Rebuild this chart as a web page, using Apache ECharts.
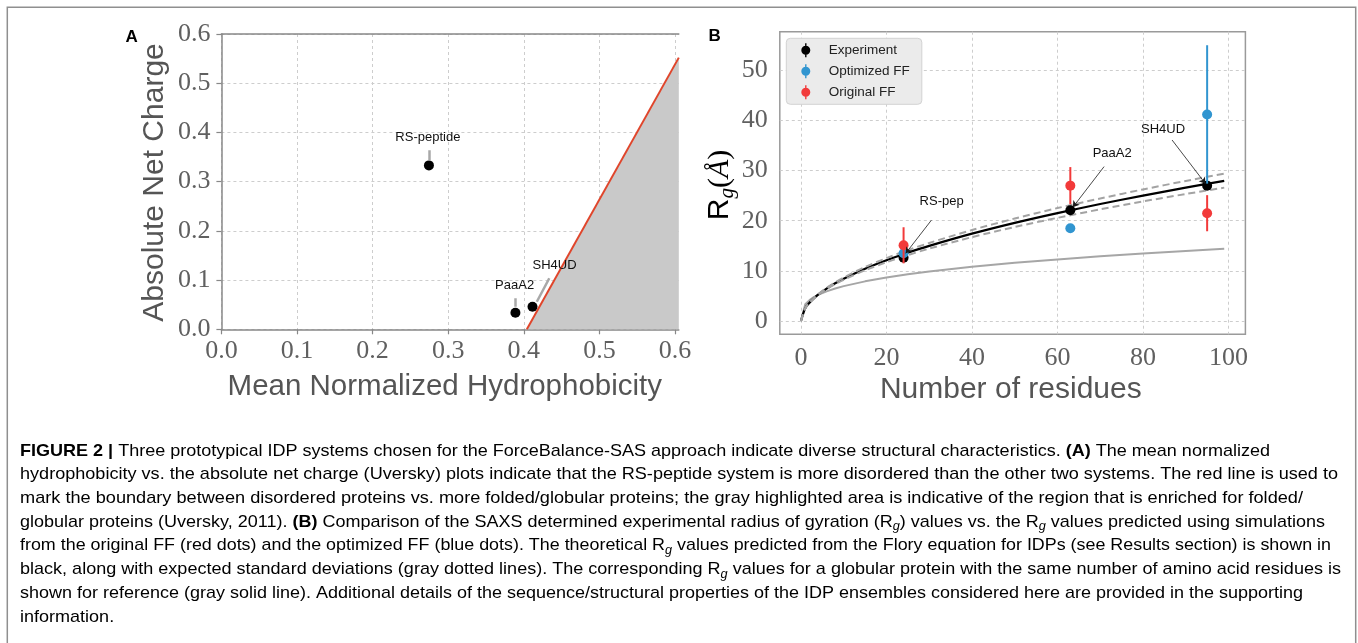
<!DOCTYPE html>
<html><head><meta charset="utf-8">
<script src="https://cdn.jsdelivr.net/npm/echarts@6/dist/echarts.min.js"></script>
<style>html,body{margin:0;padding:0;background:#fff}#c{width:1358px;height:643px}</style>
</head><body><div id="c"></div>
<script>
// ---------- Panel A data ----------
const aNames = ['RS-peptide', 'PaaA2', 'SH4UD'];
const aHydro = [0.2745, 0.3889, 0.4115];
const aCharge = [0.333, 0.0337, 0.0459];
const aLabelX = [0.2731, 0.3878, 0.4407];
const aLabelY = [0.390, 0.090, 0.129];
const aPtrFrom = [[0.2745, 0.364], [0.3889, 0.063], [0.4337, 0.1038]];
const aPtrTo = [[0.2745, 0.344], [0.3889, 0.046], [0.4172, 0.056]];
const boundaryX = [0.404, 0.605];
const boundaryY = [0, 0.552];
const aXTicks = [0, 0.1, 0.2, 0.3, 0.4, 0.5, 0.6];

// ---------- Panel B data ----------
const residues = [24, 63, 95];
const expRg = [12.6, 22.1, 27.0];
const expErr = [0.8, 0.8, 0.8];
const optRg = [13.5, 18.5, 41.2];
const optErr = [0, 0, 13.8];
const origRg = [15.1, 27.0, 21.5];
const origErr = [3.6, 3.7, 3.6];
const curveN   = [0, 1, 2, 3, 4, 6, 8, 10, 15, 20, 25, 30, 40, 50, 60, 70, 80, 90, 99];
const flory    = [0, 2.54, 3.65, 4.51, 5.24, 6.47, 7.52, 8.45, 10.44, 12.13, 13.63, 14.99, 17.42, 19.58, 21.53, 23.33, 25.02, 26.60, 27.96];
const floryHi  = [0, 2.55, 3.69, 4.57, 5.33, 6.62, 7.71, 8.68, 10.77, 12.55, 14.13, 15.57, 18.15, 20.44, 22.52, 24.44, 26.24, 27.94, 29.39];
const floryLo  = [0, 2.53, 3.61, 4.44, 5.15, 6.33, 7.34, 8.22, 10.12, 11.73, 13.15, 14.44, 16.73, 18.75, 20.58, 22.27, 23.85, 25.33, 26.60];
const globular = [0, 3.35, 4.17, 4.75, 5.20, 5.92, 6.48, 6.96, 7.91, 8.67, 9.31, 9.86, 10.81, 11.60, 12.29, 12.91, 13.47, 13.98, 14.41];
const bXTicks = [0, 20, 40, 60, 80, 100];
const bYTicks = [0, 10, 20, 30, 40, 50];
const bNames = ['RS-pep', 'PaaA2', 'SH4UD'];
const bLabelPos = [[32.9, 23.8], [72.8, 33.4], [84.7, 38.2]];
const bArrowFrom = [[30.5, 20.1], [70.9, 30.8], [86.8, 36.1]];
const bArrowTo = [[24.5, 13.5], [63.6, 22.7], [94.6, 27.4]];
const legendNames = ['Experiment', 'Optimized FF', 'Original FF'];

// ---------- Caption ----------
const captionLines = [
  [['b', 'FIGURE 2 |'], ['n', ' Three prototypical IDP systems chosen for the ForceBalance-SAS approach indicate diverse structural characteristics. '], ['b', '(A)'], ['n', ' The mean normalized']],
  [['n', 'hydrophobicity vs. the absolute net charge (Uversky) plots indicate that the RS-peptide system is more disordered than the other two systems. The red line is used to']],
  [['n', 'mark the boundary between disordered proteins vs. more folded/globular proteins; the gray highlighted area is indicative of the region that is enriched for folded/']],
  [['n', 'globular proteins ('], ['l', 'Uversky, 2011'], ['n', '). '], ['b', '(B)'], ['n', ' Comparison of the SAXS determined experimental radius of gyration (R'], ['s', 'g'], ['n', ') values vs. the R'], ['s', 'g'], ['n', ' values predicted using simulations']],
  [['n', 'from the original FF (red dots) and the optimized FF (blue dots). The theoretical R'], ['s', 'g'], ['n', ' values predicted from the Flory equation for IDPs (see Results section) is shown in']],
  [['n', 'black, along with expected standard deviations (gray dotted lines). The corresponding R'], ['s', 'g'], ['n', ' values for a globular protein with the same number of amino acid residues is']],
  [['n', 'shown for reference (gray solid line). Additional details of the sequence/structural properties of the IDP ensembles considered here are provided in the supporting']],
  [['n', 'information.']]
];
const captionEnds = [1270, 1338, 1303, 1325, 1331, 1341, 1303, null];

// ---------- build ----------
const SANS = '"Liberation Sans", Arial, sans-serif';
const SERIF = '"Liberation Serif", "DejaVu Serif", serif';
const zip = (a, b) => a.map((v, i) => [v, b[i]]);
const errData = (ys, es) => residues.map((x, i) => [x, ys[i] - es[i], ys[i] + es[i]]);

function errRender(color) {
  return function (params, api) {
    const x = api.value(0), lo = api.value(1), hi = api.value(2);
    if (hi - lo <= 0) return null;
    const p1 = api.coord([x, lo]), p2 = api.coord([x, hi]);
    return { type: 'line', shape: { x1: p1[0], y1: p1[1], x2: p2[0], y2: p2[1] }, style: { stroke: color, lineWidth: 2 } };
  };
}
function textRender(names) {
  return function (params, api) {
    const p = api.coord([api.value(0), api.value(1)]);
    return { type: 'text', x: p[0], y: p[1],
      style: { text: names[params.dataIndex], fill: '#111', fontFamily: SANS, fontSize: 13, align: 'center', verticalAlign: 'middle' } };
  };
}

const capFont = { n: ['normal', 'normal'], b: ['bold', 'normal'], l: ['normal', 'normal'], s: ['normal', 'italic'] };
const capSize = { n: 17, b: 17, l: 17, s: 12 };
const cvs = document.createElement('canvas').getContext('2d');
function measureLine(segs) {
  let w = 0;
  segs.forEach(([k, t]) => {
    cvs.font = capFont[k][1] + ' ' + capFont[k][0] + ' ' + capSize[k] + 'px "Liberation Sans"';
    w += cvs.measureText(t).width;
  });
  return w;
}
const capRich = {
  n: { fontFamily: SANS, fontSize: 17, color: '#3a3a3a', lineHeight: 22 },
  b: { fontFamily: SANS, fontSize: 17, fontWeight: 'bold', color: '#2a2a2a', lineHeight: 22 },
  l: { fontFamily: SANS, fontSize: 17, color: '#86a3c6', lineHeight: 22 },
  s: { fontFamily: SANS, fontSize: 12, fontStyle: 'italic', color: '#3a3a3a', lineHeight: 12, verticalAlign: 'bottom' }
};
const capX0 = 20, capY0 = 451, capDY = 23.7;
const capScales = captionLines.map((segs, i) => captionEnds[i] ? (captionEnds[i] - capX0) / measureLine(segs) : null);
const known = capScales.filter(s => s).sort((a, b) => a - b);
const medScale = known[Math.floor(known.length / 2)];
const captionGraphics = captionLines.map((segs, i) => ({
  type: 'text', x: capX0, y: capY0 + i * capDY, scaleX: capScales[i] || medScale,
  style: { text: segs.map(([k, t]) => '{' + k + '|' + t + '}').join(''), rich: capRich, align: 'left', verticalAlign: 'middle' }
}));

const iconPath = 'path://M4.3,0L5.7,0L5.7,14L4.3,14Z M0.5,7A4.5,4.5,0,1,1,9.5,7A4.5,4.5,0,1,1,0.5,7Z';
const gridLine = { show: true, lineStyle: { type: [3, 3], color: '#cdcdcd', width: 1 } };
const tickLabel = { fontFamily: SERIF, fontSize: 26, color: '#606060' };

const chart = echarts.init(document.getElementById('c'), null, { renderer: 'canvas' });
chart.setOption({
  animation: false,
  backgroundColor: '#ffffff',
  grid: [
    { left: 221.4, top: 34, width: 457.4, height: 295.3 },
    { left: 779.8, top: 31.7, width: 465.6, height: 302.6, show: true, borderColor: '#9a9a9a', borderWidth: 1.5, backgroundColor: 'transparent' }
  ],
  xAxis: [
    { gridIndex: 0, type: 'value', min: 0, max: 0.605,
      axisLine: { show: true, onZero: false, lineStyle: { color: '#888', width: 1.5 } },
      axisTick: { show: true, customValues: aXTicks, length: 5, lineStyle: { color: '#888', width: 1.2 } },
      axisLabel: { customValues: aXTicks, formatter: v => v.toFixed(1), margin: 9, ...tickLabel },
      splitLine: gridLine },
    { gridIndex: 0, type: 'value', position: 'top', min: 0, max: 0.605,
      axisLine: { show: true, onZero: false, lineStyle: { color: '#888', width: 1.5 } },
      axisTick: { show: false }, axisLabel: { show: false }, splitLine: { show: false } },
    { gridIndex: 1, type: 'value', min: -4.95, max: 103.95,
      axisLine: { show: false }, axisTick: { show: false, customValues: bXTicks },
      axisLabel: { customValues: bXTicks, margin: 11, ...tickLabel },
      splitLine: gridLine }
  ],
  yAxis: [
    { gridIndex: 0, type: 'value', min: 0, max: 0.6, interval: 0.1,
      axisLine: { show: true, onZero: false, lineStyle: { color: '#888', width: 1.5 } },
      axisTick: { show: true, length: 5, lineStyle: { color: '#888', width: 1.2 } },
      axisLabel: { formatter: v => v.toFixed(1), margin: 11, ...tickLabel },
      splitLine: gridLine },
    { gridIndex: 1, type: 'value', min: -2.65, max: 57.7,
      axisLine: { show: false }, axisTick: { show: false, customValues: bYTicks },
      axisLabel: { customValues: bYTicks, margin: 12, ...tickLabel },
      splitLine: gridLine }
  ],
  legend: {
    data: legendNames.map(n => ({ name: n, icon: iconPath })),
    orient: 'vertical', left: 786.3, top: 38.3,
    padding: [5, 12, 5, 15], itemWidth: 10, itemHeight: 14, itemGap: 7,
    backgroundColor: '#ebebeb', borderColor: '#d2d2d2', borderWidth: 1, borderRadius: 4,
    selectedMode: false,
    textStyle: { fontFamily: SANS, fontSize: 13.5, color: '#222', padding: [0, 0, 0, 13] }
  },
  series: [
    // Panel A
    { type: 'line', xAxisIndex: 0, yAxisIndex: 0, data: zip(boundaryX, boundaryY), showSymbol: false, silent: true,
      lineStyle: { color: '#e0452b', width: 2 }, areaStyle: { color: '#c9c9c9', opacity: 1 }, z: 1 },
    { type: 'lines', coordinateSystem: 'cartesian2d', xAxisIndex: 0, yAxisIndex: 0, silent: true,
      data: aPtrFrom.map((p, i) => ({ coords: [p, aPtrTo[i]] })),
      lineStyle: { color: '#a8a8a8', width: 2.5, opacity: 1 }, z: 3 },
    { type: 'scatter', xAxisIndex: 0, yAxisIndex: 0, data: zip(aHydro, aCharge), symbolSize: 10,
      itemStyle: { color: '#000', opacity: 1 }, z: 4 },
    { type: 'custom', xAxisIndex: 0, yAxisIndex: 0, silent: true, z: 5,
      data: zip(aLabelX, aLabelY), renderItem: textRender(aNames) },
    // Panel B curves
    { type: 'line', xAxisIndex: 2, yAxisIndex: 1, data: zip(curveN, globular), showSymbol: false, silent: true,
      lineStyle: { color: '#a6a6a6', width: 2 }, z: 2 },
    { type: 'line', xAxisIndex: 2, yAxisIndex: 1, data: zip(curveN, flory), showSymbol: false, silent: true, smooth: 0.3,
      lineStyle: { color: '#000', width: 2.2 }, z: 2 },
    { type: 'line', xAxisIndex: 2, yAxisIndex: 1, data: zip(curveN, floryHi), showSymbol: false, silent: true, smooth: 0.3,
      lineStyle: { color: '#a3a3a3', width: 2, type: [7, 4] }, z: 2 },
    { type: 'line', xAxisIndex: 2, yAxisIndex: 1, data: zip(curveN, floryLo), showSymbol: false, silent: true, smooth: 0.3,
      lineStyle: { color: '#a3a3a3', width: 2, type: [7, 4] }, z: 2 },
    // Panel B points + error bars
    { type: 'custom', name: 'expErrBar', xAxisIndex: 2, yAxisIndex: 1, data: errData(expRg, expErr), renderItem: errRender('#000'), z: 3, silent: true },
    { type: 'scatter', name: 'Experiment', xAxisIndex: 2, yAxisIndex: 1, data: zip(residues, expRg), symbolSize: 10, itemStyle: { color: '#000', opacity: 1 }, z: 3 },
    { type: 'custom', name: 'optErrBar', xAxisIndex: 2, yAxisIndex: 1, data: errData(optRg, optErr), renderItem: errRender('#3195d0'), z: 4, silent: true },
    { type: 'scatter', name: 'Optimized FF', xAxisIndex: 2, yAxisIndex: 1, data: zip(residues, optRg), symbolSize: 10, itemStyle: { color: '#3195d0', opacity: 1 }, z: 4 },
    { type: 'custom', name: 'origErrBar', xAxisIndex: 2, yAxisIndex: 1, data: errData(origRg, origErr), renderItem: errRender('#f23a3a'), z: 5, silent: true },
    { type: 'scatter', name: 'Original FF', xAxisIndex: 2, yAxisIndex: 1, data: zip(residues, origRg), symbolSize: 10, itemStyle: { color: '#f23a3a', opacity: 1 }, z: 5 },
    // Panel B annotations
    { type: 'lines', coordinateSystem: 'cartesian2d', xAxisIndex: 2, yAxisIndex: 1, silent: true,
      symbol: ['none', 'arrow'], symbolSize: 6,
      data: bArrowFrom.map((p, i) => ({ coords: [p, bArrowTo[i]] })),
      lineStyle: { color: '#1a1a1a', width: 0.8, opacity: 1 }, z: 6 },
    { type: 'custom', xAxisIndex: 2, yAxisIndex: 1, silent: true, z: 6,
      data: bLabelPos, renderItem: textRender(bNames) }
  ],
  graphic: [
    { type: 'rect', shape: { x: 7.3, y: 7.3, width: 1348.4, height: 660 }, style: { fill: 'none', stroke: '#8f8f8f', lineWidth: 1.5 }, silent: true, z: -1 },
    { type: 'text', x: 131.7, y: 37.3, style: { text: 'A', fontFamily: SANS, fontSize: 17, fontWeight: 'bold', fill: '#000', align: 'center', verticalAlign: 'middle' } },
    { type: 'text', x: 714.7, y: 36, style: { text: 'B', fontFamily: SANS, fontSize: 17, fontWeight: 'bold', fill: '#000', align: 'center', verticalAlign: 'middle' } },
    { type: 'text', x: 154.6, y: 182.5, rotation: Math.PI / 2, style: { text: 'Absolute Net Charge', fontFamily: SANS, fontSize: 30, fill: '#555', align: 'center', verticalAlign: 'middle' } },
    { type: 'text', x: 444.8, y: 386.7, style: { text: 'Mean Normalized Hydrophobicity', fontFamily: SANS, fontSize: 29.5, fill: '#555', align: 'center', verticalAlign: 'middle' } },
    { type: 'text', x: 1010.8, y: 390, style: { text: 'Number of residues', fontFamily: SANS, fontSize: 30, fill: '#555', align: 'center', verticalAlign: 'middle' } },
    { type: 'text', x: 720, y: 185, rotation: Math.PI / 2, style: {
        text: '{r|R}{g|g}{p|(}{a|Å}{p|)}', align: 'center', verticalAlign: 'middle',
        rich: {
          r: { fontFamily: SANS, fontSize: 30, color: '#555', lineHeight: 36 },
          g: { fontFamily: SERIF, fontSize: 21, fontStyle: 'italic', color: '#555', lineHeight: 20, verticalAlign: 'bottom' },
          p: { fontFamily: SERIF, fontSize: 30, color: '#555', lineHeight: 36 },
          a: { fontFamily: SERIF, fontSize: 30, fontStyle: 'italic', color: '#555', lineHeight: 36 }
        } } },
    ...captionGraphics
  ]
});
</script>
</body></html>
